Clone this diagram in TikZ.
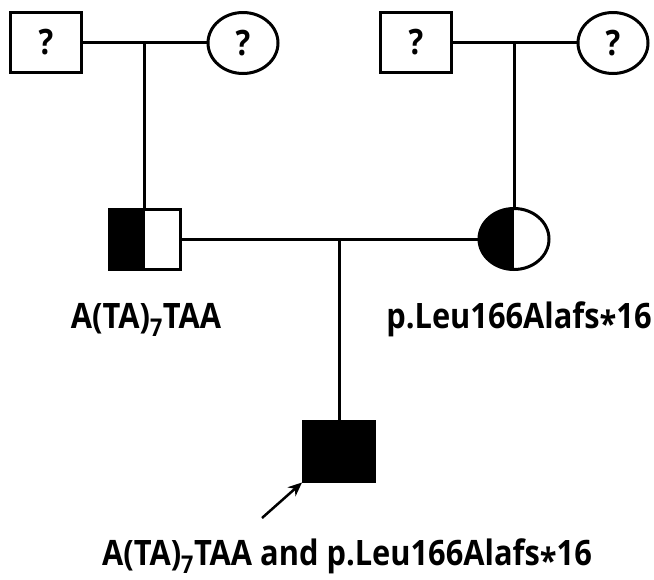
\documentclass[tikz,border=0pt]{standalone}
\usepackage{fontspec}
\setmainfont{Open Sans}[FakeStretch=0.88]
\usetikzlibrary{shapes.geometric,arrows.meta,calc}
\tikzset{
	txt/.style={font=\bfseries\fontsize{35}{38}\selectfont},
	male/.style={draw,line width=3pt,minimum width=71pt,minimum height=60pt,inner sep=0pt,txt},
	female/.style={draw,ellipse,line width=3pt,minimum width=70pt,minimum height=61pt,inner sep=0pt,txt},
	carrier/.style={path picture={\fill (path picture bounding box.south west) rectangle (path picture bounding box.north);}},
	affected/.style={fill=black},
	lbl/.style={txt,anchor=base,inner sep=0pt}
}
\newcommand{\stern}{\raisebox{-0.25em}[\height][0pt]{*}}

\begin{document}
\begin{tikzpicture}[x=1pt,y=-1pt,line width=3pt]
	\useasboundingbox (0,0) rectangle (654,579);
	\node [male] (gfa) at (46,42) {?};
	\node [female] (gma) at (243,43) {?};
	\node [male] (gfb) at (416,42) {?};
	\node [female] (gmb) at (613,43) {?};
	\node [male,carrier] (dad) at (145,239) {};
	\node [female,carrier] (mum) at (514,239) {};
	\node [male,affected] (kid) at (339,451) {};
	\coordinate (ma) at ($(gfa.east)!0.5!(gma.west)$);
	\coordinate (mb) at ($(gfb.east)!0.5!(gmb.west)$);
	\coordinate (mc) at (kid.north |- dad.east);
	\coordinate (ptr) at (262,518);
	\draw (gfa) -- (gfa -| gma.west);
	\draw (gfb) -- (gfb -| gmb.west);
	\draw (dad) -- (mum);
	\draw (ma) -- (ma |- dad.north);
	\draw (mb) -- (mb |- mum.north);
	\draw (mc) -- (kid);
	\draw [line width=2.5pt,-{Stealth[length=14pt,width=12pt]}] (ptr) -- (kid.south west);
	\node [lbl] (ldad) at (146,328) {A(TA)\textsubscript{7}TAA};
	\node [lbl] (lmum) at (519,328) {p.Leu166Alafs\stern16};
	\node [lbl] (lkid) at (347,565) {A(TA)\textsubscript{7}TAA and p.Leu166Alafs\stern16};
\end{tikzpicture}
\end{document}
